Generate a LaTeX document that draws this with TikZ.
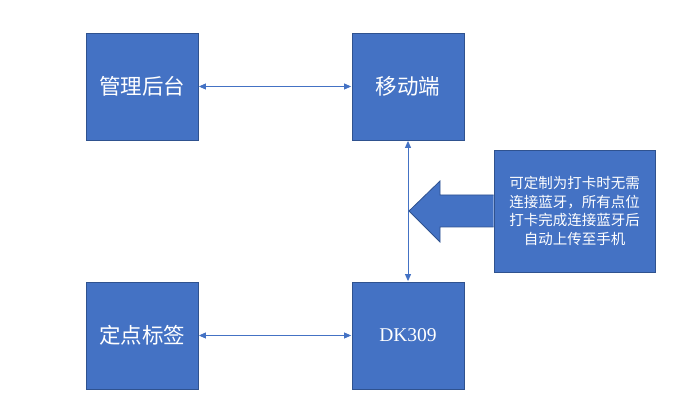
\documentclass[tikz,border=0pt]{standalone}
\usepackage{fontspec}
\newfontfamily\cjk{Noto Sans CJK SC}
\newfontfamily\latserif{Liberation Serif}
\usetikzlibrary{arrows.meta}
\definecolor{boxblue}{HTML}{4472C4}
\definecolor{boxedge}{HTML}{2F528F}
\begin{document}
\begin{tikzpicture}[x=1pt,y=-1pt,
  blk/.style={draw=boxedge,fill=boxblue,line width=0.8pt,minimum width=112pt,minimum height=107pt,inner sep=0pt,text=white,font=\cjk\fontsize{21.5}{24}\selectfont},
  conn/.style={draw=boxblue,line width=0.9pt,{Triangle[length=7pt,width=6pt]}-{Triangle[length=7pt,width=6pt]},shorten <=0.5pt,shorten >=0.5pt}]
\useasboundingbox (0,0) rectangle (696,411);
\node[blk] (admin) at (142,86.5) {管理后台};
\node[blk] (mobile) at (408,86.5) {移动端};
\node[blk] (point) at (142,335.5) {定点标签};
\node[blk] (dk) at (408,335.5) {\latserif\fontsize{19.5}{24}\selectfont DK309};
\draw[conn] (admin.east) -- (mobile.west);
\draw[conn] (point.east) -- (dk.west);
\draw[conn] (mobile.south) -- (dk.north);
\node[draw=boxedge,fill=boxblue,line width=0.8pt,minimum width=161pt,minimum height=122pt,inner sep=0pt,text=white,align=center,font=\cjk\fontsize{14.5}{18.8}\selectfont] (note) at (574.5,211)
  {可定制为打卡时无需\\连接蓝牙，所有点位\\打卡完成连接蓝牙后\\自动上传至手机};
\coordinate (tip) at (409,211);
\filldraw[draw=boxedge,fill=boxblue,line width=0.8pt]
  (note.west |- 0,195) -- (440,195) -- (440,181) -- (tip) -- (440,242) -- (440,227) -- (note.west |- 0,227);
\end{tikzpicture}
\end{document}
